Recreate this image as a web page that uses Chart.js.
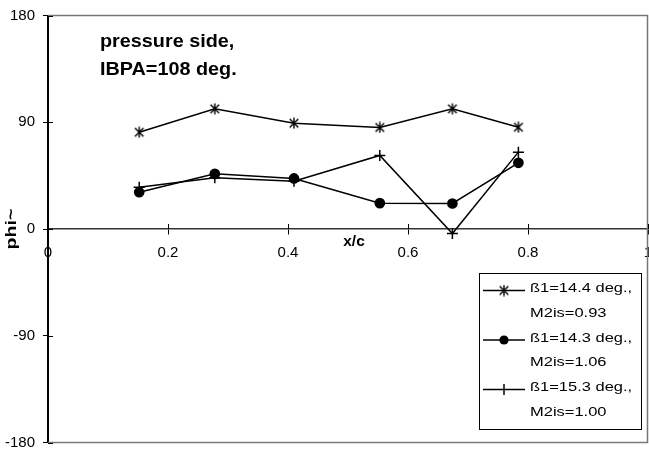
<!DOCTYPE html>
<html>
<head>
<meta charset="utf-8">
<script src="https://cdn.jsdelivr.net/npm/chart.js@4/dist/chart.umd.min.js"></script>
<style>
  html, body { margin: 0; padding: 0; background: #fff; }
  #wrap { width: 649px; height: 450px; }
  canvas { display: block; }
</style>
</head>
<body>
<div id="wrap"><canvas id="chart" width="649" height="450"></canvas></div>
<script>
// Measurement positions along the chord and the phase angle of each run
const xPositions = [0.152, 0.278, 0.41, 0.553, 0.674, 0.784];
const phiRunA = [81.6, 101.3, 89.2, 85.6, 101.3, 85.8];
const phiRunB = [31.0, 46.5, 42.6, 21.8, 21.5, 55.8];
const phiRunC = [35.2, 43.2, 40.3, 62.0, -3.8, 64.8];

const runLabels = [
  ['ß1=14.4 deg.,', 'M2is=0.93'],
  ['ß1=14.3 deg.,', 'M2is=1.06'],
  ['ß1=15.3 deg.,', 'M2is=1.00']
];

const xTickValues = [0, 0.2, 0.4, 0.6, 0.8, 1];
const xTickLabels = ['0', '0.2', '0.4', '0.6', '0.8', '1'];
const yTickValues = [-180, -90, 0, 90, 180];
const yTickLabels = ['-180', '-90', '0', '90', '180'];

const titleLines = ['pressure side,', 'IBPA=108 deg.'];
const xAxisTitle = 'x/c';
const yAxisTitle = 'phi~';

const FONT = "'Liberation Sans', Arial, sans-serif";

// Six-spoke asterisk marker (X plus a vertical bar)
function makeAsterisk(size) {
  const c = document.createElement('canvas');
  c.width = size; c.height = size;
  const g = c.getContext('2d');
  const m = size / 2, r = size / 2 - 0.5, a = r * 0.78;
  g.strokeStyle = '#000';
  g.lineWidth = 1.4;
  g.beginPath();
  g.moveTo(m - a, m - a); g.lineTo(m + a, m + a);
  g.moveTo(m + a, m - a); g.lineTo(m - a, m + a);
  g.moveTo(m, m - r); g.lineTo(m, m + r);
  g.stroke();
  return c;
}
const asterisk = makeAsterisk(12);

function toPoints(ys) { return xPositions.map((x, i) => ({ x: x, y: ys[i] })); }

const datasets = [
  { label: runLabels[0].join(' '), data: toPoints(phiRunA), pointStyle: asterisk, pointRadius: 6 },
  { label: runLabels[1].join(' '), data: toPoints(phiRunB), pointStyle: 'circle', pointRadius: 4.6 },
  { label: runLabels[2].join(' '), data: toPoints(phiRunC), pointStyle: 'cross', pointRadius: 5.5 }
].map(d => Object.assign({
  borderColor: '#000', backgroundColor: '#000', borderWidth: 1.5,
  pointBorderColor: '#000', pointBackgroundColor: '#000', pointBorderWidth: 1.5,
  showLine: true, tension: 0, fill: false
}, d));

function stretchedText(ctx, text, x, y, sx) {
  ctx.save();
  ctx.translate(x, y);
  ctx.scale(sx, 1);
  ctx.fillText(text, 0, 0);
  ctx.restore();
}

// keep the plot area fixed: scales reserve no extra room for overhanging labels
function noScalePadding(s) {
  s.paddingLeft = 0; s.paddingRight = 0; s.paddingTop = 0; s.paddingBottom = 0;
}

const decorations = {
  id: 'decorations',
  afterDraw(chart) {
    const ctx = chart.ctx;
    const area = chart.chartArea;
    const xs = chart.scales.x, ys = chart.scales.y;
    const y0 = ys.getPixelForValue(0);

    ctx.save();
    // plot frame (top, right, bottom)
    ctx.strokeStyle = '#777';
    ctx.lineWidth = 1.5;
    ctx.beginPath();
    ctx.moveTo(area.left, area.top);
    ctx.lineTo(area.right - 0.5, area.top);
    ctx.lineTo(area.right - 0.5, area.bottom);
    ctx.lineTo(area.left, area.bottom);
    ctx.stroke();

    // inner halves of the crossing tick marks
    ctx.strokeStyle = '#000';
    ctx.lineWidth = 1;
    ctx.beginPath();
    yTickValues.forEach(v => {
      const p = Math.round(ys.getPixelForValue(v)) + 0.5;
      ctx.moveTo(area.left, p); ctx.lineTo(area.left + 5, p);
    });
    xTickValues.forEach(v => {
      const p = Math.round(xs.getPixelForValue(v)) + 0.5;
      ctx.moveTo(p, y0); ctx.lineTo(p, y0 - 5);
    });
    ctx.stroke();

    // chart caption
    ctx.fillStyle = '#000';
    ctx.textAlign = 'left';
    ctx.textBaseline = 'alphabetic';
    ctx.font = 'bold 18px ' + FONT;
    stretchedText(ctx, titleLines[0], area.left + 52, 47, 1.1);
    stretchedText(ctx, titleLines[1], area.left + 52, 74.5, 1.1);

    // axis titles
    ctx.font = 'bold 14px ' + FONT;
    ctx.textAlign = 'center';
    ctx.textBaseline = 'middle';
    stretchedText(ctx, xAxisTitle, xs.getPixelForValue(0.51), y0 + 13, 1.1);
    ctx.save();
    ctx.translate(area.left - 36, y0);
    ctx.rotate(-Math.PI / 2);
    ctx.font = 'bold 14px ' + FONT;
    stretchedText(ctx, yAxisTitle, 0, 0, 1.4);
    ctx.restore();

    // legend box
    const bx = area.right - 169, by = area.top + 257.5, bw = 162, bh = 156;
    ctx.strokeStyle = '#000';
    ctx.lineWidth = 1;
    ctx.strokeRect(Math.round(bx) + 0.5, Math.round(by) + 0.5, bw, bh);
    ctx.font = '13.5px ' + FONT;
    ctx.textAlign = 'left';
    ctx.textBaseline = 'middle';
    chart.data.datasets.forEach((ds, i) => {
      const yc = by + 15.5 + i * 49.5;
      const ly = yc + 2;
      ctx.strokeStyle = '#000';
      ctx.lineWidth = 1.5;
      ctx.beginPath();
      ctx.moveTo(bx + 4, ly); ctx.lineTo(bx + 46, ly);
      ctx.stroke();
      const mx = bx + 25;
      if (ds.pointStyle === 'circle') {
        ctx.beginPath();
        ctx.arc(mx, ly, ds.pointRadius, 0, Math.PI * 2);
        ctx.fill();
      } else if (ds.pointStyle === 'cross') {
        ctx.lineWidth = 1.5;
        ctx.beginPath();
        ctx.moveTo(mx, ly - ds.pointRadius); ctx.lineTo(mx, ly + ds.pointRadius);
        ctx.stroke();
      } else {
        ctx.drawImage(ds.pointStyle, mx - 6, ly - 6);
      }
      stretchedText(ctx, runLabels[i][0], bx + 51, yc, 1.22);
      stretchedText(ctx, runLabels[i][1], bx + 51, yc + 24.5, 1.22);
    });
    ctx.restore();
  }
};

new Chart(document.getElementById('chart'), {
  type: 'scatter',
  data: { datasets: datasets },
  options: {
    responsive: false,
    animation: false,
    devicePixelRatio: 1,
    layout: { autoPadding: false, padding: { left: 0, top: 15.5, right: 1, bottom: 7.5 } },
    plugins: { legend: { display: false }, tooltip: { enabled: false } },
    scales: {
      x: {
        type: 'linear', min: 0, max: 1,
        position: { y: 0 },
        afterBuildTicks: s => { s.ticks = xTickValues.map(v => ({ value: v })); },
        afterFit: noScalePadding,
        ticks: {
          callback: (v, i) => xTickLabels[i],
          font: { family: FONT, size: 15 }, color: '#000',
          padding: 10, maxRotation: 0, autoSkip: false
        },
        grid: { drawOnChartArea: false, drawTicks: true, tickLength: 5, color: '#000', lineWidth: 1 },
        border: { display: true, color: '#333', width: 1.5 }
      },
      y: {
        type: 'linear', min: -180, max: 180,
        position: 'left',
        afterBuildTicks: s => { s.ticks = yTickValues.map(v => ({ value: v })); },
        afterFit: s => { noScalePadding(s); s.width = 48; },
        ticks: {
          callback: (v, i) => yTickLabels[i],
          font: { family: FONT, size: 15 }, color: '#000',
          padding: 8, autoSkip: false
        },
        grid: { drawOnChartArea: false, drawTicks: true, tickLength: 5, color: '#000', lineWidth: 1 },
        border: { display: true, color: '#000', width: 2 }
      }
    }
  },
  plugins: [decorations]
});
</script>
</body>
</html>
